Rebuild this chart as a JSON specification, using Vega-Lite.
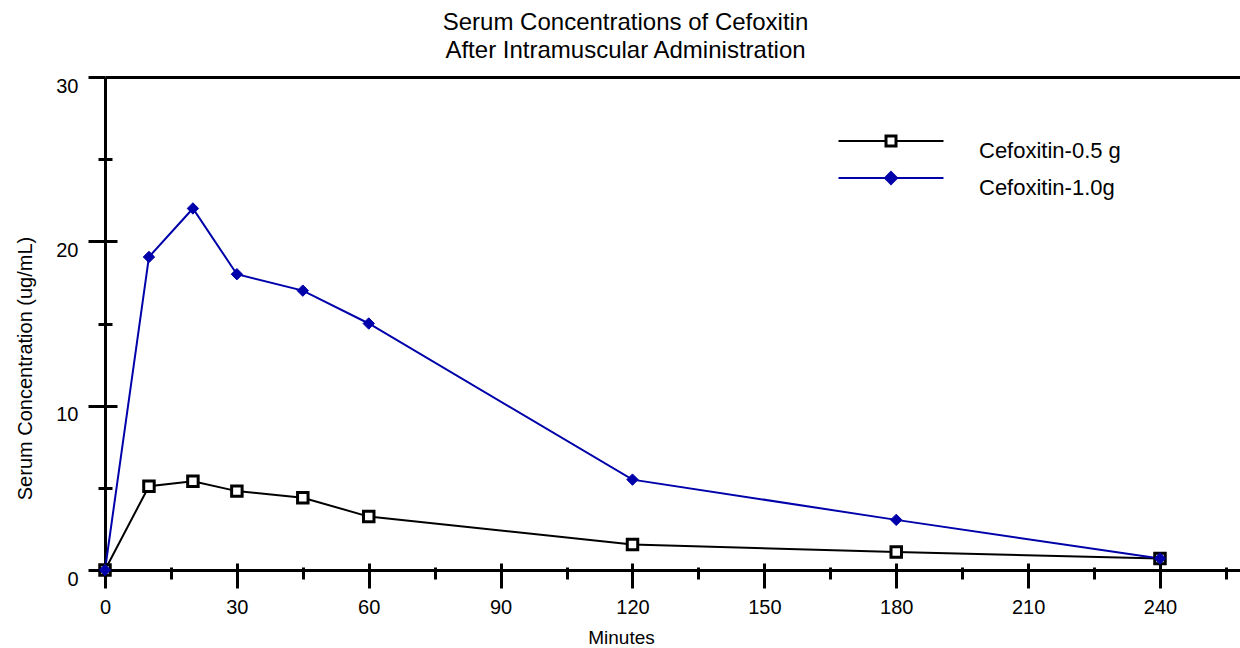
{
  "$schema": "https://vega.github.io/schema/vega-lite/v6.json",
  "width": 1135,
  "height": 493,
  "autosize": {"type": "none"},
  "padding": {"left": 105, "top": 77, "right": 0, "bottom": 78},
  "background": "white",
  "config": {
    "view": {"stroke": null},
    "font": "Liberation Sans",
    "axis": {
      "grid": false,
      "domainColor": "black",
      "tickColor": "black",
      "labelColor": "black",
      "titleColor": "black",
      "labelFont": "Liberation Sans",
      "titleFont": "Liberation Sans",
      "titleFontWeight": "normal",
      "labelFontSize": 20,
      "titleFontSize": 20,
      "domainWidth": 3,
      "tickWidth": 3
    }
  },
  "title": {
    "text": ["Serum Concentrations of Cefoxitin", "After Intramuscular Administration"],
    "fontSize": 24,
    "font": "Liberation Sans",
    "fontWeight": "normal",
    "color": "black",
    "anchor": "middle",
    "dx": -47,
    "dy": 22,
    "offset": 16,
    "baseline": "alphabetic",
    "lineHeight": 28
  },
  "data": {
    "values": [
      {"series": "Cefoxitin-0.5 g", "minutes": 0, "conc": 0},
      {"series": "Cefoxitin-0.5 g", "minutes": 10, "conc": 5.1},
      {"series": "Cefoxitin-0.5 g", "minutes": 20, "conc": 5.4},
      {"series": "Cefoxitin-0.5 g", "minutes": 30, "conc": 4.8},
      {"series": "Cefoxitin-0.5 g", "minutes": 45, "conc": 4.4},
      {"series": "Cefoxitin-0.5 g", "minutes": 60, "conc": 3.25},
      {"series": "Cefoxitin-0.5 g", "minutes": 120, "conc": 1.55},
      {"series": "Cefoxitin-0.5 g", "minutes": 180, "conc": 1.1},
      {"series": "Cefoxitin-0.5 g", "minutes": 240, "conc": 0.7},
      {"series": "Cefoxitin-1.0g", "minutes": 0, "conc": 0},
      {"series": "Cefoxitin-1.0g", "minutes": 10, "conc": 19.05},
      {"series": "Cefoxitin-1.0g", "minutes": 20, "conc": 22.0},
      {"series": "Cefoxitin-1.0g", "minutes": 30, "conc": 18.0},
      {"series": "Cefoxitin-1.0g", "minutes": 45, "conc": 17.0},
      {"series": "Cefoxitin-1.0g", "minutes": 60, "conc": 15.0},
      {"series": "Cefoxitin-1.0g", "minutes": 120, "conc": 5.5},
      {"series": "Cefoxitin-1.0g", "minutes": 180, "conc": 3.05},
      {"series": "Cefoxitin-1.0g", "minutes": 240, "conc": 0.7}
    ]
  },
  "layer": [
    {
      "mark": {"type": "line", "strokeWidth": 2},
      "encoding": {
        "x": {
          "field": "minutes", "type": "quantitative",
          "scale": {"domain": [0, 258.2], "nice": false, "zero": false},
          "axis": {
            "orient": "bottom",
            "values": [0, 15, 30, 45, 60, 75, 90, 105, 120, 135, 150, 165, 180, 195, 210, 225, 240, 255],
            "tickSize": {"condition": {"test": "datum.value % 30 === 0", "value": 18}, "value": 9},
            "labelExpr": "datum.value % 30 === 0 ? datum.label : ''",
            "labelPadding": 9,
            "labelOverlap": false,
            "labelFlush": false,
            "title": "Minutes",
            "titleX": 516,
            "titleY": 67,
            "titleAlign": "center",
            "titleBaseline": "middle",
            "titleFontSize": 19
          }
        },
        "y": {
          "field": "conc", "type": "quantitative",
          "scale": {"domain": [0, 30], "nice": false},
          "axis": {
            "orient": "left",
            "values": [0, 5, 10, 15, 20, 25, 30],
            "tickSize": {"condition": {"test": "datum.value % 10 === 0", "value": 17}, "value": 7},
            "labelExpr": "datum.value % 10 === 0 ? datum.label : ''",
            "labelPadding": 10,
            "labelOffset": 9,
            "labelOverlap": false,
            "labelFlush": false,
            "title": "Serum Concentration (ug/mL)",
            "titleX": -80,
            "titleY": 291,
            "titleAngle": -90,
            "titleAlign": "center",
            "titleBaseline": "middle"
          }
        },
        "color": {
          "field": "series", "type": "nominal",
          "scale": {"domain": ["Cefoxitin-0.5 g", "Cefoxitin-1.0g"], "range": ["black", "#0000AA"]},
          "legend": {
            "title": null,
            "orient": "none",
            "legendX": 775,
            "legendY": 53,
            "symbolType": "M-8.75,0H8.75M0,-1L1,0L0,1L-1,0Z",
            "symbolSize": 144,
            "symbolStrokeWidth": 2,
            "labelFont": "Liberation Sans",
            "labelFontSize": 22,
            "labelColor": "black",
            "labelOffset": 77,
            "labelLimit": 0,
            "rowPadding": 5,
            "encode": {
              "symbols": {
                "update": {
                  "shape": {"signal": "datum.value === 'Cefoxitin-0.5 g' ? 'M-8.75,0H-0.917M0.917,0H8.75M-0.917,-0.917H0.917V0.917H-0.917ZM-0.75,-0.75H0.75V0.75H-0.75Z' : 'M-8.75,0H8.75M0,-1L1,0L0,1L-1,0Z'"},
                  "fill": {"signal": "datum.value === 'Cefoxitin-0.5 g' ? 'white' : '#0000AA'"},
                  "stroke": {"signal": "datum.value === 'Cefoxitin-0.5 g' ? 'black' : '#0000AA'"},
                  "strokeWidth": {"value": 2},
                  "opacity": {"value": 1},
                  "fillOpacity": {"value": 1}
                }
              },
              "labels": {"update": {"dy": {"value": 10}}}
            }
          }
        }
      }
    },
    {
      "transform": [{"filter": "datum.series === 'Cefoxitin-0.5 g'"}],
      "mark": {"type": "point", "shape": "square", "filled": true, "fill": "white", "stroke": "black", "strokeWidth": 3, "size": 110, "opacity": 1},
      "encoding": {
        "x": {
          "field": "minutes", "type": "quantitative",
          "axis": {
            "orient": "bottom",
            "values": [15, 30, 45, 60, 75, 90, 105, 120, 135, 150, 165, 180, 195, 210, 225, 240, 255],
            "tickSize": {"condition": {"test": "datum.value % 30 === 0", "value": -7}, "value": -3},
            "domain": false,
            "labels": false,
            "title": null
          }
        },
        "y": {
          "field": "conc", "type": "quantitative",
          "axis": {
            "orient": "left",
            "values": [5, 10, 15, 20, 25],
            "tickSize": {"condition": {"test": "datum.value % 10 === 0", "value": -12}, "value": -7},
            "domain": false,
            "labels": false,
            "title": null
          }
        }
      }
    },
    {
      "transform": [{"filter": "datum.series === 'Cefoxitin-1.0g'"}],
      "mark": {"type": "point", "shape": "diamond", "filled": true, "color": "#0000AA", "stroke": "#0000AA", "strokeWidth": 1, "size": 130, "opacity": 1},
      "encoding": {
        "x": {
          "field": "minutes", "type": "quantitative",
          "axis": {"orient": "top", "ticks": false, "labels": false, "title": null, "domain": true}
        },
        "y": {"field": "conc", "type": "quantitative", "axis": null}
      }
    }
  ],
  "resolve": {"axis": {"x": "independent", "y": "independent"}}
}
